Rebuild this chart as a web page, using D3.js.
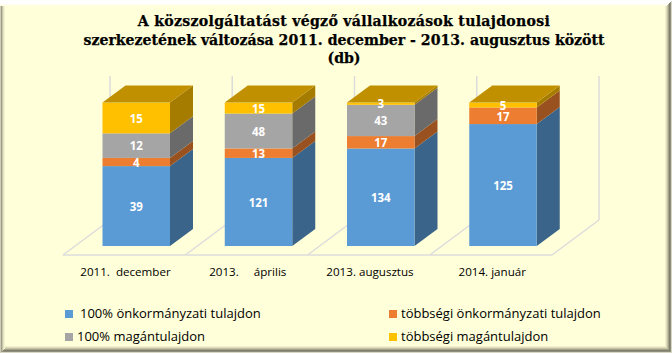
<!DOCTYPE html>
<html>
<head>
<meta charset="utf-8">
<script src="https://d3js.org/d3.v7.min.js"></script>
<style>
html, body { margin: 0; padding: 0; background: #fff; }
text { font-family: "Open Sans", "Noto Sans", sans-serif; }
</style>
</head>
<body>
<div id="chart"></div>
<script>
const categories = ["2011.  december", "2013.     április", "2013. augusztus", "2014. január"];
const onkormanyzati100 = [39, 121, 134, 125];
const onkormanyzatiTobbsegi = [4, 13, 17, 17];
const magan100 = [12, 48, 43, 0];
const maganTobbsegi = [15, 15, 3, 5];

const seriesNames = ["100% önkormányzati tulajdon", "többségi önkormányzati tulajdon", "100% magántulajdon", "többségi magántulajdon"];
const titleLines = ["A közszolgáltatást végző vállalkozások tulajdonosi", "szerkezetének változása 2011. december - 2013. augusztus között", "(db)"];

const width = 672, height = 353;
const colors = ["#5b9bd5", "#ed7d31", "#a5a5a5", "#ffc000"];
const sideColors = ["#3a6489", "#99511f", "#6a6a6a", "#a67c00"];
const topColor = "#c09000";

const rows = categories.map((c, i) => ({
    cat: c,
    a: onkormanyzati100[i],
    b: onkormanyzatiTobbsegi[i],
    c: magan100[i],
    d: maganTobbsegi[i]
}));
const keys = ["a", "b", "c", "d"];

const svg = d3.select("#chart").append("svg")
    .attr("width", width)
    .attr("height", height)
    .style("display", "block");

// panel with bevelled edge, outermost band first
const bevelRight = ["#d8d6c4", "#8f8e7c", "#7f7e6c", "#a5a38a", "#c4c2a2", "#dedcb9", "#f3f1cd"];
svg.append("rect").attr("width", width).attr("height", height).attr("fill", "#ffffd9");
bevelRight.forEach((col, i) => {
    svg.append("rect")
        .attr("x", -1).attr("y", -1)
        .attr("width", width + 1 - i)
        .attr("height", height + 1 - i)
        .attr("fill", col);
});
svg.append("rect").attr("x", 0).attr("y", 0)
    .attr("width", width - bevelRight.length)
    .attr("height", height - bevelRight.length)
    .attr("fill", "#ffffd9");

const bevelLeft = ["#cfcdb5", "#a09d8a", "#c8c6a8", "#e6e4c0", "#f5f3cf"];
bevelLeft.forEach((col, i) => {
    svg.append("rect")
        .attr("x", i).attr("y", 3)
        .attr("width", 1)
        .attr("height", height - 3 - i)
        .attr("fill", col);
});
const bevelTop = ["#ffffff", "#ffffff", "#ffffff", "#ffffff", "#ffffef", "#ffffe4"];
bevelTop.forEach((col, i) => {
    svg.append("rect")
        .attr("x", 0).attr("y", i)
        .attr("width", width - i)
        .attr("height", 1)
        .attr("fill", col);
});

// title, first line runs a bit wider in the original
svg.append("text")
    .attr("text-anchor", "middle")
    .attr("font-size", 14.1)
    .attr("font-weight", "bold")
    .attr("fill", "#000")
    .attr("stroke", "#000")
    .attr("stroke-width", 0.25)
    .style("font-family", "'DejaVu Serif', serif")
    .selectAll("tspan")
    .data(titleLines)
    .join("tspan")
    .attr("x", 344)
    .attr("y", (d, i) => 26 + i * 18.5)
    .style("letter-spacing", (d, i) => i === 0 ? "0.3px" : null)
    .text(d => d);

// plot geometry
const x = d3.scaleBand().domain(categories).range([63, 552]).paddingInner(0).paddingOuter(0);
const barLeft = cat => x(cat) + 39.5;
const barWidth = 67.5;
const y = d3.scaleLinear().domain([0, 1]).range([246, 102.6]);
const depthX = 23, depthY = -17;

const stack = d3.stack().keys(keys).offset(d3.stackOffsetExpand);
const stacked = stack(rows);

// floor and back wall
const floorColor = "#dcdcdc";
const grid = svg.append("g").attr("fill", "none").attr("stroke", floorColor).attr("stroke-width", 1.5);
const floorX = [...categories.map(c => x(c)), 552];
floorX.forEach(fx => {
    grid.append("line").attr("x1", fx).attr("y1", 255).attr("x2", fx + 47).attr("y2", 220);
    grid.append("line").attr("x1", fx + 47).attr("y1", 220).attr("x2", fx + 47).attr("y2", 76);
});
grid.append("line").attr("x1", 63).attr("y1", 255).attr("x2", 552).attr("y2", 255);

// bars: side faces, front faces, top
const layers = svg.selectAll(".layer")
    .data(stacked)
    .join("g")
    .attr("class", "layer");

layers.selectAll(".side")
    .data((s, k) => s.map(d => ({ d, k })))
    .join("polygon")
    .attr("class", "side")
    .attr("fill", p => sideColors[p.k])
    .attr("points", p => {
        const r = barLeft(p.d.data.cat) + barWidth;
        const y0 = y(p.d[0]), y1 = y(p.d[1]);
        return [[r, y0], [r, y1], [r + depthX, y1 + depthY], [r + depthX, y0 + depthY]].join(" ");
    });

layers.selectAll(".front")
    .data((s, k) => s.map(d => ({ d, k })))
    .join("rect")
    .attr("class", "front")
    .attr("fill", p => colors[p.k])
    .attr("x", p => barLeft(p.d.data.cat))
    .attr("width", barWidth)
    .attr("y", p => y(p.d[1]))
    .attr("height", p => y(p.d[0]) - y(p.d[1]));

svg.selectAll(".top")
    .data(rows)
    .join("polygon")
    .attr("class", "top")
    .attr("fill", topColor)
    .attr("points", d => {
        const l = barLeft(d.cat), t = y(1);
        return [[l, t], [l + barWidth, t], [l + barWidth + depthX, t + depthY], [l + depthX, t + depthY]].join(" ");
    });

// value labels go last so the top face does not cover them
const labels = stacked.flatMap(s => s
    .filter(d => d[1] - d[0] > 0)
    .map(d => ({ d, v: d.data[s.key] })));
svg.append("g").selectAll("text")
    .data(labels)
    .join("text")
    .attr("x", p => barLeft(p.d.data.cat) + barWidth / 2)
    .attr("y", p => (y(p.d[0]) + y(p.d[1])) / 2 + 4.8)
    .attr("text-anchor", "middle")
    .attr("font-size", 11.5)
    .attr("font-weight", "bold")
    .attr("fill", "#fff")
    .text(p => p.v);

// category labels
svg.append("g").selectAll("text")
    .data(categories)
    .join("text")
    .attr("x", c => x(c) + 62.5)
    .attr("y", 276)
    .attr("text-anchor", "middle")
    .attr("font-size", 11.6)
    .attr("fill", "#000")
    .style("white-space", "pre")
    .attr("xml:space", "preserve")
    .text(c => c);

// legend
const legendPos = [[65, 80, 318], [389, 401, 318], [65, 77, 341], [389, 401, 341]];
const legend = svg.append("g").selectAll("g")
    .data(seriesNames)
    .join("g");
legend.append("rect")
    .attr("x", (d, i) => legendPos[i][0])
    .attr("y", (d, i) => legendPos[i][2] - 8)
    .attr("width", 8)
    .attr("height", 8)
    .attr("fill", (d, i) => colors[i]);
legend.append("text")
    .attr("x", (d, i) => legendPos[i][1])
    .attr("y", (d, i) => legendPos[i][2])
    .attr("font-size", 13)
    .attr("fill", "#000")
    .text(d => d);
</script>
</body>
</html>
